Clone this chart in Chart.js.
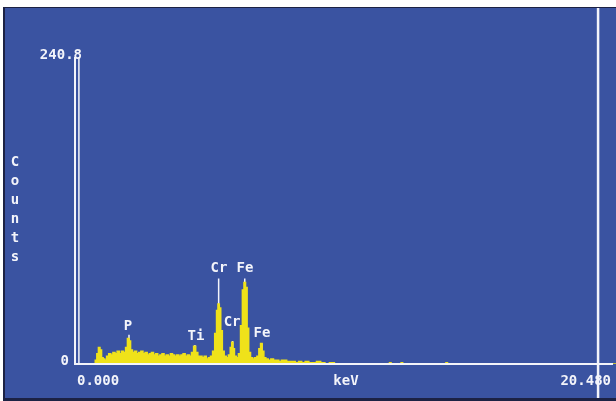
<!DOCTYPE html>
<html>
<head>
<meta charset="utf-8">
<script src="https://cdn.jsdelivr.net/npm/chart.js@4/dist/chart.umd.min.js"></script>
<style>
  html, body { margin: 0; padding: 0; background: #fff; }
  #wrap { position: relative; width: 616px; height: 401px; overflow: hidden; }
  #panel {
    position: absolute; left: 3px; top: 7px; width: 611px; height: 390px;
    background: #3a53a1;
    border-left: 2px solid #1c2244; border-top: 1px solid #1c2244; border-bottom: 3px solid #1c2244;
  }
  #spectrum { position: absolute; left: 0; top: 0; }
</style>
</head>
<body>
<div id="wrap">
  <div id="panel"></div>
  <canvas id="spectrum" width="616" height="401"></canvas>
</div>
<script>
// spectrum (keV / counts)
const energyKeV = [0.00, 0.70, 0.76, 0.82, 0.88, 0.94, 1.00, 1.06, 1.12, 1.20, 1.28, 1.36, 1.44, 1.52, 1.60,
  1.68, 1.76, 1.84, 1.92, 1.98, 2.04, 2.10, 2.18, 2.26, 2.34, 2.42, 2.50, 2.58, 2.66, 2.74, 2.82, 2.90, 2.98,
  3.06, 3.14, 3.22, 3.30, 3.38, 3.46, 3.54, 3.62, 3.70, 3.78, 3.86, 3.94, 4.02, 4.10, 4.18, 4.26, 4.34, 4.42,
  4.50, 4.58, 4.66, 4.74, 4.82, 4.90, 4.98, 5.06, 5.14, 5.22, 5.30, 5.36, 5.41, 5.46, 5.52, 5.58, 5.66, 5.74,
  5.82, 5.88, 5.93, 5.98, 6.04, 6.12, 6.20, 6.28, 6.34, 6.40, 6.46, 6.52, 6.58, 6.66, 6.74, 6.82, 6.90, 6.97,
  7.03, 7.09, 7.16, 7.24, 7.34, 7.44, 7.54, 7.64, 7.74, 7.84, 7.94, 8.04, 8.14, 8.26, 8.38, 8.50, 8.62, 8.76,
  8.90, 9.04, 9.20, 9.36, 9.52, 9.70, 9.90, 11.86, 11.92, 11.98, 12.30, 12.36, 12.42, 14.00, 14.06, 14.12, 20.48];
const counts = [0, 0, 3, 8, 13, 11, 5, 4, 3, 6, 8, 7, 9, 8, 10,
  8, 10, 9, 13, 20, 18, 11, 9, 10, 8, 9, 10, 8, 9, 7, 8, 9, 7,
  8, 6, 7, 8, 6, 7, 6, 8, 7, 6, 7, 6, 7, 8, 6, 7, 6, 9,
  14, 9, 6, 6, 5, 6, 4, 5, 6, 10, 24, 42, 47, 44, 26, 10, 6, 5,
  7, 13, 17, 12, 6, 5, 8, 30, 58, 64, 60, 28, 9, 5, 4, 5, 6, 12,
  16, 10, 5, 4, 3, 4, 3, 3, 2, 3, 3, 2, 2, 2, 1, 2, 1, 2,
  1, 1, 2, 1, 0, 1, 0, 0, 1, 0, 0, 1, 0, 0, 1, 0, 0];

// white peak markers
const markerKeV = [0.11, 2.01, 4.51, 5.41, 5.94, 6.40, 7.05];
const markerCounts = [240.8, 23, 15, 67, 18, 67, 16];

// element labels
const peakNames = ["P", "Ti", "Cr", "Cr", "Fe", "Fe"];
const peakKeV = [1.97, 4.55, 5.42, 5.92, 6.41, 7.05];
const peakLabelCounts = [25, 17, 70, 28, 70, 19];

const xTickLabels = ["0.000", "20.480"];
const yTickLabels = ["0", "240.8"];
const xMax = 20.48;
const yMax = 240.8;
const cursorKeV = 19.8;

const spectrumData = energyKeV.map((e, i) => ({ x: e, y: counts[i] }));
const markerData = [];
markerKeV.forEach((e, i) => {
  markerData.push({ x: e, y: 0 }, { x: e, y: markerCounts[i] }, { x: e, y: null });
});

const WHITE = "#f3f4fa";
const FONT = 'bold 14px "DejaVu Sans Mono"';

// axes, labels and cursor drawn in the old analyser style
const edsDecor = {
  id: "edsDecor",
  afterDraw(chart) {
    const { ctx, chartArea: a, scales: { x, y } } = chart;
    ctx.save();
    ctx.strokeStyle = WHITE;
    ctx.lineWidth = 2;
    // y axis + baseline
    ctx.beginPath();
    ctx.moveTo(a.left - 1, y.getPixelForValue(yMax));
    ctx.lineTo(a.left - 1, y.getPixelForValue(0));
    ctx.lineTo(a.right - 3, y.getPixelForValue(0));
    ctx.stroke();
    // cursor
    const cx = x.getPixelForValue(cursorKeV);
    ctx.lineWidth = 2.5;
    ctx.beginPath();
    ctx.moveTo(cx, 8);
    ctx.lineTo(cx, 398);
    ctx.stroke();

    ctx.fillStyle = WHITE;
    ctx.font = FONT;
    ctx.textBaseline = "bottom";
    ctx.textAlign = "center";
    peakNames.forEach((n, i) => {
      ctx.fillText(n, x.getPixelForValue(peakKeV[i]), y.getPixelForValue(peakLabelCounts[i]) + 1);
    });

    ctx.textBaseline = "middle";
    const ty = a.bottom + 17;
    ctx.textAlign = "left";
    ctx.fillText(xTickLabels[0], x.getPixelForValue(0) + 1, ty);
    ctx.textAlign = "right";
    ctx.fillText(xTickLabels[1], a.right - 5, ty);
    ctx.textAlign = "center";
    ctx.fillText("keV", (a.left + a.right) / 2, ty);

    ctx.textAlign = "right";
    ctx.fillText(yTickLabels[1], a.left + 6, y.getPixelForValue(yMax) - 2);
    ctx.fillText(yTickLabels[0], a.left - 7, y.getPixelForValue(0) - 3);

    ctx.textAlign = "center";
    "Counts".split("").forEach((ch, i) => {
      ctx.fillText(ch, 15, 162 + i * 19);
    });
    ctx.restore();
  }
};

new Chart(document.getElementById("spectrum"), {
  type: "line",
  data: {
    datasets: [
      {
        data: spectrumData,
        borderColor: "#efe21a",
        backgroundColor: "#efe21a",
        borderWidth: 1.5,
        fill: "origin",
        pointRadius: 0,
        stepped: "middle"
      },
      {
        data: markerData,
        borderColor: WHITE,
        borderWidth: 1.5,
        fill: false,
        pointRadius: 0,
        spanGaps: false
      }
    ]
  },
  options: {
    responsive: false,
    animation: false,
    events: [],
    layout: { padding: { left: 76, right: 0, top: 57, bottom: 37 } },
    plugins: { legend: { display: false }, tooltip: { enabled: false } },
    scales: {
      x: { type: "linear", min: 0, max: xMax, display: false },
      y: { min: 0, max: yMax, display: false }
    }
  },
  plugins: [edsDecor]
});
</script>
</body>
</html>
